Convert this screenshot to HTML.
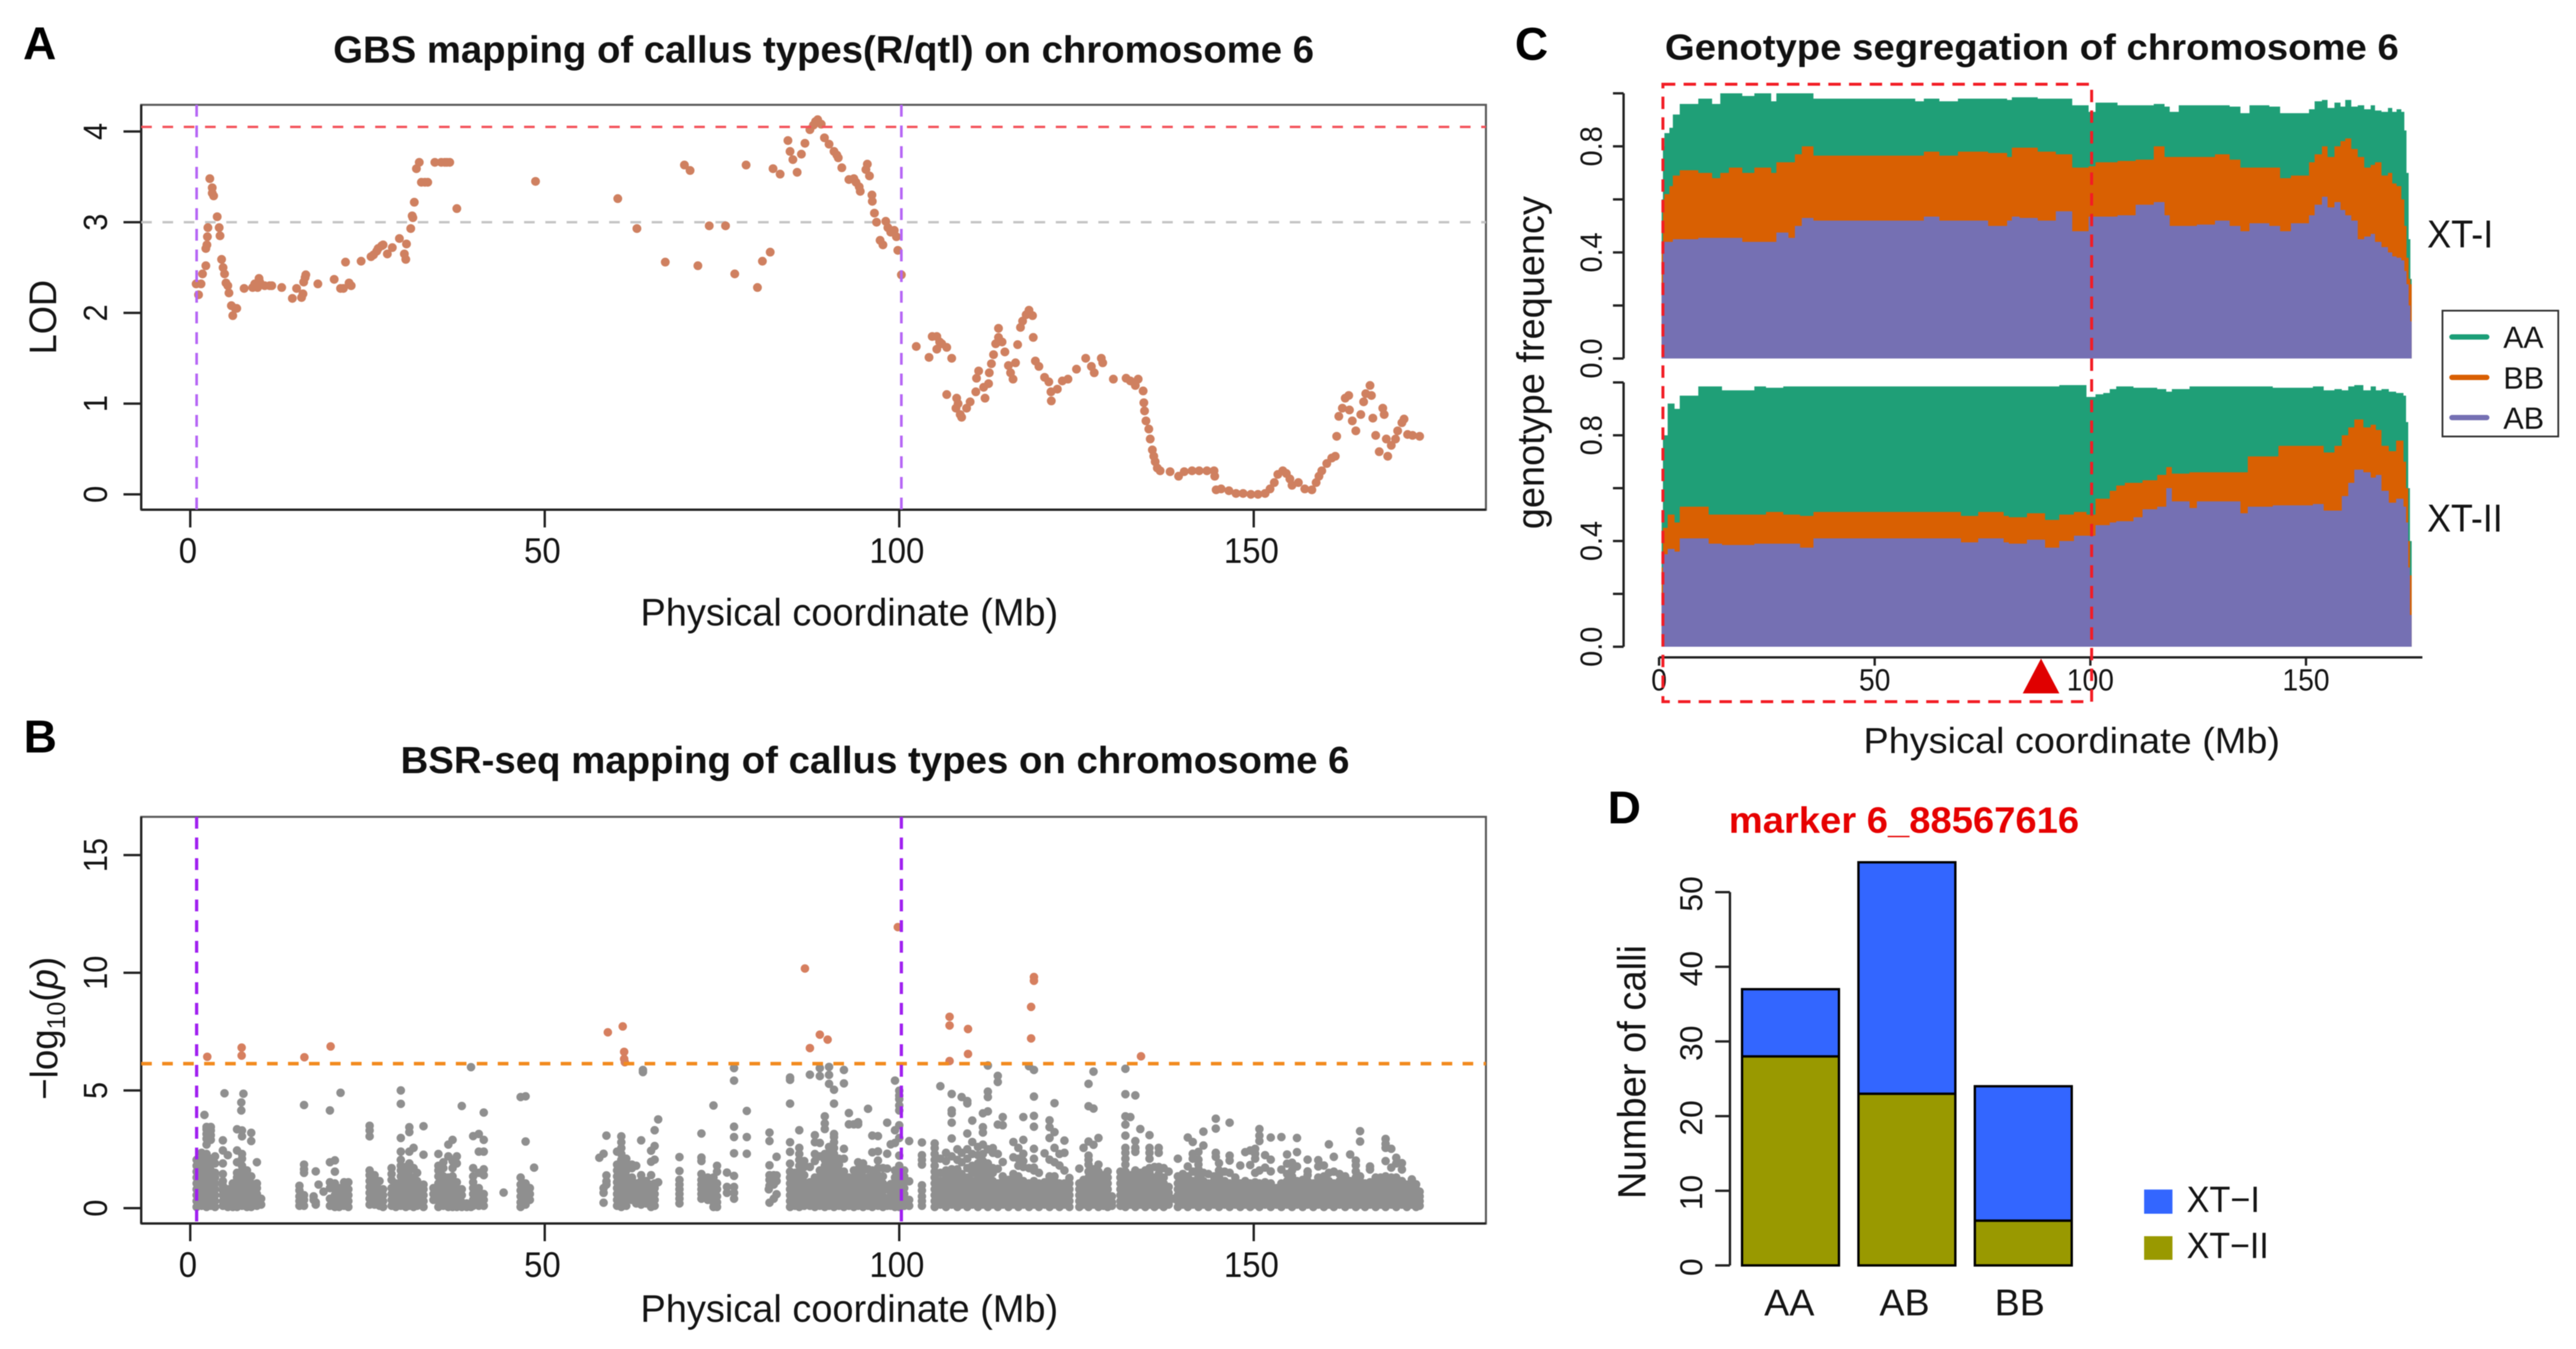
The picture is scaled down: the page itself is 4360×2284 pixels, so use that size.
<!DOCTYPE html>
<html lang="en">
<head>
<meta charset="utf-8">
<title>Chromosome 6 mapping of callus types</title>
<style>
html,body{margin:0;padding:0;background:#fff}
svg{display:block;filter:blur(0.9px)}
text{font-family:"Liberation Sans",Arial,sans-serif;fill:#141414}
.panel{font-weight:700;font-size:78px;fill:#000}
.title{font-weight:700;font-size:64px;fill:#111}
.axis{font-size:65px}
</style>
</head>
<body>
<svg id="figure" xmlns="http://www.w3.org/2000/svg" width="4360" height="2284" viewBox="0 0 4360 2284">
<rect x="0" y="0" width="4360" height="2284" fill="#fff"/>
<text class="panel" x="39" y="100">A</text>
<text class="panel" x="40" y="1274">B</text>
<text class="panel" x="2564" y="101">C</text>
<text class="panel" x="2721" y="1394">D</text>

<text class="title" x="564" y="106" textLength="1660" lengthAdjust="spacingAndGlyphs">GBS mapping of callus types(R/qtl) on chromosome 6</text>
<text class="title" x="678" y="1309" textLength="1606" lengthAdjust="spacingAndGlyphs">BSR-seq mapping of callus types on chromosome 6</text>
<text class="title" x="2818" y="101" textLength="1242" lengthAdjust="spacingAndGlyphs" style="font-size:61px">Genotype segregation of chromosome 6</text>
<text class="title" x="2926" y="1410" textLength="593" lengthAdjust="spacingAndGlyphs" style="fill:#e60000;font-size:62px">marker 6_88567616</text>

<text class="axis" x="1084" y="1059" textLength="707" lengthAdjust="spacingAndGlyphs">Physical coordinate (Mb)</text>
<text class="axis" x="1084" y="2238" textLength="707" lengthAdjust="spacingAndGlyphs">Physical coordinate (Mb)</text>
<text class="axis" x="3154" y="1275" textLength="705" lengthAdjust="spacingAndGlyphs" style="font-size:61px">Physical coordinate (Mb)</text>

<text class="axis" text-anchor="middle" transform="translate(95 537) rotate(-90)" textLength="126" lengthAdjust="spacingAndGlyphs">LOD</text>
<text class="axis" text-anchor="middle" transform="translate(97 1741) rotate(-90)" textLength="242" lengthAdjust="spacingAndGlyphs">−log<tspan dy="13" font-size="44">10</tspan><tspan dy="-13">(</tspan><tspan font-style="italic">p</tspan>)</text>
<text class="axis" text-anchor="middle" transform="translate(2613 614) rotate(-90)" textLength="564" lengthAdjust="spacingAndGlyphs">genotype frequency</text>
<text class="axis" text-anchor="middle" transform="translate(2785 1815) rotate(-90)" textLength="430" lengthAdjust="spacingAndGlyphs" style="font-size:67px">Number of calli</text>

<text x="4108" y="419" font-size="66" textLength="112" lengthAdjust="spacingAndGlyphs">XT-I</text>
<text x="4108" y="900" font-size="66" textLength="128" lengthAdjust="spacingAndGlyphs">XT-II</text>

<g id="layer-a"></g>
<g id="layer-b"></g>
<g id="layer-c"></g>
<g id="layer-d"></g>

<g>
<rect x="4134" y="526" width="196" height="213" fill="#fff" stroke="#333" stroke-width="3"/>
<line x1="4150" x2="4209" y1="570.5" y2="570.5" stroke="#1b9e77" stroke-width="9" stroke-linecap="round"/>
<line x1="4150" x2="4209" y1="639" y2="639" stroke="#d95f02" stroke-width="9" stroke-linecap="round"/>
<line x1="4150" x2="4209" y1="707" y2="707" stroke="#7570b3" stroke-width="9" stroke-linecap="round"/>
<text x="4237" y="589" font-size="52" textLength="68" lengthAdjust="spacingAndGlyphs">AA</text>
<text x="4237" y="658" font-size="52" textLength="69" lengthAdjust="spacingAndGlyphs">BB</text>
<text x="4237" y="726" font-size="52" textLength="69" lengthAdjust="spacingAndGlyphs">AB</text>
</g>

<g>
<rect x="3629" y="2014" width="48" height="41" fill="#3366ff"/>
<rect x="3629" y="2093" width="48" height="40" fill="#999900"/>
<text x="3701" y="2052" font-size="62" textLength="124" lengthAdjust="spacingAndGlyphs">XT−I</text>
<text x="3701" y="2130" font-size="62" textLength="139" lengthAdjust="spacingAndGlyphs">XT−II</text>
</g>
</svg>

<script>
// ---------- Panel A: LOD scan (Mb, LOD) ----------
const lodPositions=[0.83,1.52,1.17,1.73,2.2,2.2,2.35,2.42,2.49,2.76,3.1,3.1,3.3,3.8,4.08,4.2,4.42,4.63,4.84,5.04,5.3,5.46,5.8,6.36,6.56,6,7.6,8.8,9.1,9.5,9.7,9.8,10.5,11.2,11.5,12.9,14.4,15,15.7,15.9,16,16.2,16.3,18,20.3,21.2,21.6,22.4,22.7,21.9,24.1,25.5,25.85,26.3,26.5,27,27.2,27.8,28.5,29.5,30.2,30.4,30.5,31.1,31.4,31.3,31.6,31.9,32.3,32.6,33.1,33.5,34.5,35.4,35.9,36.2,36.6,37.6,48.7,60.3,63,67,69.7,70.5,71.6,73.2,75.5,76.8,78.4,80,80.7,81.8,82.2,83.2,84.3,84.6,85,85.6,86.2,86.7,87.4,87.9,88.2,88.5,89,89.45,90.1,90.8,91.2,91.4,91.9,92.9,93.6,93.9,94.35,94.5,95.3,95.5,95.8,96.15,96.2,96.5,96.8,98.1,97.3,97.7,98.4,98.8,99.3,99.6,99.8,100.3,102.4,104.2,104.65,105.3,105.7,105.3,106,106.7,107.4,106.7,108.1,108,108.3,108.6,108.8,109.5,110,110.8,111.2,110.9,111.9,112.1,112.6,112.7,113,113.3,113.6,114,114,114.5,114.9,115.4,116.4,115.7,116.05,116.7,117.1,117.4,117.9,118.3,118.8,118.9,119.2,119.7,120.5,121.1,121.4,121.45,122.3,123,123.8,125,126.3,127.1,127.5,128.5,128.7,130.2,132,132.6,133.3,133.7,134.4,134.5,134.6,134.8,135.2,135.4,135.7,135.9,136.1,136.4,136.8,138.2,139.4,140.2,141.3,142.3,143.4,144.4,144.5,144.7,145.4,146.5,147.5,148.5,149.6,150.6,151.6,152.3,152.9,153.4,154.1,154.6,155.1,155.4,156.3,157.2,158.2,158.8,159.2,159.6,160.3,161,161.5,161.7,162,162.5,162.9,163.4,163.5,163.9,164.4,165.1,165.5,165.8,166.4,166.6,166.8,167.2,167.7,168.2,168.4,168.7,168.9,169.4,170,170.3,170.9,171.2,171.7,172.4,173.4];
const lodValues=[2.32,2.32,2.2,2.43,2.52,2.71,2.75,2.84,2.94,3.48,3.38,3.32,3.29,3.06,2.94,2.85,2.59,2.5,2.43,2.33,2.3,2.22,2.08,2.05,2.05,1.97,2.27,2.28,2.32,2.28,2.38,2.34,2.3,2.3,2.3,2.28,2.16,2.27,2.17,2.21,2.34,2.39,2.42,2.32,2.37,2.27,2.27,2.33,2.3,2.56,2.57,2.62,2.64,2.68,2.71,2.74,2.75,2.65,2.72,2.82,2.65,2.59,2.76,2.93,3.05,3.07,3.22,3.59,3.66,3.44,3.44,3.44,3.66,3.66,3.66,3.66,3.66,3.15,3.45,3.26,2.93,2.56,3.63,3.57,2.52,2.96,2.96,2.43,3.63,2.28,2.57,2.67,3.59,3.53,3.9,3.78,3.69,3.55,3.75,3.87,4.02,4.07,4.11,4.13,4.08,3.93,3.86,3.78,3.74,3.71,3.6,3.47,3.48,3.44,3.39,3.34,3.58,3.64,3.51,3.3,3.23,3.1,3,3.01,2.8,2.75,2.94,2.89,2.91,2.84,2.69,2.42,1.63,1.51,1.74,1.74,1.68,1.6,1.66,1.62,1.5,1.1,1.06,0.95,1,0.88,0.85,0.95,1.02,1.13,1.36,1.28,1.18,1.06,1.22,1.34,1.44,1.54,1.66,1.83,1.73,1.68,1.57,1.42,1.45,1.34,1.27,1.65,1.84,1.91,1.98,2.03,1.97,1.73,1.47,1.41,1.29,1.24,1.13,1.03,1.16,1.25,1.27,1.38,1.5,1.41,1.34,1.5,1.45,1.27,1.28,1.25,1.2,1.27,1.14,1.01,0.92,0.81,0.72,0.61,0.49,0.42,0.36,0.29,0.26,0.25,0.2,0.25,0.26,0.26,0.26,0.26,0.2,0.05,0.06,0.04,0.01,0.01,0,0,0.01,0.06,0.13,0.22,0.26,0.23,0.17,0.1,0.13,0.06,0.05,0.13,0.2,0.26,0.34,0.4,0.42,0.64,0.86,0.95,1.06,1.09,0.93,0.81,0.7,0.88,1.02,1.11,1.2,1.09,0.84,0.65,0.47,0.95,0.88,0.61,0.42,0.54,0.61,0.7,0.79,0.83,0.66,0.65,0.64];
const lodThreshold=4.05;
const lodSuggestive=3;
const regionBounds=[0.9,100.3];
const mbTicks=[0,50,100,150];
const lodTicks=[0,1,2,3,4];

// ---------- Panel B: BSR-seq association ----------
const bsrHitPositions=[2.4,7.25,7.25,16.1,19.8,58.9,61,61.2,61.2,61.3,86.7,87.4,88.8,89.9,99.8,107.1,107.1,107.1,109.7,109.7,118.6,118.6,119,119,134.1];
const bsrHitValues=[6.43,6.82,6.48,6.41,6.87,7.47,7.72,6.64,6.34,6.2,10.18,6.8,7.37,7.16,11.94,8.13,7.76,6.25,7.61,6.55,7.21,8.55,9.82,9.66,6.45];
const bsrThreshold=6.14;
const bsrTicks=[0,5,10,15];
// each row: position in Mb, then the -log10(p) values read at that position
const bsrColumns=[
[0.9,.05,.3,.55,.8,1.05,1.3,1.55,1.8,2.05],[1.6,.1,.35,.6,.85,1.1,1.35,1.6,1.85,2.1,2.35],[2,3.96],
[2.3,.05,.3,.55,.8,1.05,1.3,1.55,1.8,2.05,2.3,2.7,2.95,3.15,3.35,3.45],[2.9,.1,.35,.6,.85,1.1,1.35,1.6,1.85,2.1,2.9,3.1,3.3,3.45],
[3.5,.05,.3,.55,.8,1.05,1.3,1.5,1.9,2.2],[4.6,.1,.3,.55,.75,.95,1.15,1.45,1.9,2.45,2.88],[4.83,4.88],[5.3,.05,.3,.55,.8,2.25],[6,.05,.25,.5,.75,1.05],
[6.6,.05,.3,.55,.8,1.05,1.3,1.5,1.95,2.45,3.35],[7.2,4.15,4.49],[7.3,.1,.35,.6,.85,1.1,1.35,1.6,1.8,2.1,2.3,3.3,3.05],[7.5,4.86],[8,.05,.3,.55,.8,1.05,1.3,1.6],
[8.6,.05,.3,.55,.8,1.05,1.35,2.85,3.2],[9.4,.1,.35,.6,.85,1.05,1.95],[10,.15,.4],
[15.4,.1,.3,.5,.75,.95],[16.05,.1,.35,.55,1.5,1.65,1.85,4.38],[17.4,.35,.5],[17.7,.15,.25,1.56],[18.1,1],[18.8,.7],[19.7,.1,.4,.85,1.1,1.95,4.15],
[20.4,.05,.3,.55,.8,1.05,1.55,2.03],[21,.05,.3,.6,.85],[21.2,4.9],[21.7,.1,.35,.6,.85,1.1],[22.3,.05,.3,.55,.8,1.1],
[25.3,.15,.4,.65,.9,1.15,1.4,1.6,3.05,3.3,3.5],[26,.15,.4,.65,.9,1.15,1.4],[26.7,.1,.35,.6,.8,1.15],[27.2,.05,.3,.55,.8],[28.4,.1,.35,.6,.85,1.2,1.45,1.7],[29,.05,.3,.55,.8,1.05],
[29.7,.1,.35,.6,.85,1.1,1.35,1.6,1.8,2.05,2.4,2.98,4.43,5],[30.4,.05,.3,.55,.8,1.05,1.3,1.55,1.75],[30.9,.1,.35,.6,.85,1.1,1.35,1.6,1.9,2.4,3.23,3.44],[31.5,.05,.3,.55,.8,1.05,1.3,1.7,2.56],
[32,.1,.35,.65,.9,1.15,1.5],[32.9,.05,.3,.55,.8,1,2.27,3.48],
[34.3,.35,.6,.85],[35,.05,.3,.55,.8,1.05,1.35,1.6,1.8,2.3],[35.7,.1,.35,.6,.85,1.1,1.35,1.7,1.95],[36.4,.05,.3,.55,.8,1.05,1.3,2.2,2.7],[37,.05,.3,.55,.8,1.05,1.35,1.7,2,2.9],
[37.6,.05,.3,.55,.85,1.1,2.2,1.9],[38.3,.05,.25,.55,.8,4.34],[39,.05,.2],[39.6,.05,.15,5.99],[39.9,.1,.35,.6,.85,1.1,1.35,1.7,3.06],[40.7,.1,.35,.6,.85,1.5,3.15,2.4],[41.4,.1,.35,.6,1.4,1.65,2.4,2.9,4.06],[44.2,.66],
[46.6,.05,.25,.5,.75,1,1.3,4.72],[47.3,.15,.4,.65,.95,1.05,2.83,4.75],[47.9,.35,.6,.85],[48.5,1.72],
[57.7,2.14],[58.3,.23,.65,.85,2.31],[58.7,1,1.14,1.39,3.08],[60.2,.1,.35,.6,.85,1.1,1.35,1.6,1.85,2.4],[60.8,.05,.3,.55,.8,1.05,1.3,1.55,1.8,2.05,2.3,2.55,2.8,3.05],
[61.5,.1,.35,.6,.85,1.1,1.35,1.6,1.85,2.1],[62.3,.35,.6,.85,1.05,1.3,1.7,1.85],[62.9,.2,.45,.7,1.05,1.8],[63.6,.15,.4,.65,.9,1.15,1.4,2.88],[63.85,5.87,5.78],[64.3,.2,.45,.7,.95,1.15],
[65,.05,.3,.55,.8,1,1.4,1.97,2.44],[65.5,.1,.35,.6,.85,1.05,2.06,2.64,3.31],[66,1.1,3.77],[69,.2,.4,.6,.8,1,1.2,1.58,2.17],[72.1,.4,.6,.8,1,1.2,1.45,2,2.15,3.17],[73,.35,.6,.85,1.1,1.3],
[73.8,.05,.25,.5,.75,1,1.3,4.36],[74.3,.05,.25,.5,.8,1.05,1.55,1.8],[75.7,.65,.9,1.51],[76.7,.4,.65,.9,1.37,2.33,3.02,3.46,5.42,5.95],[78.5,2.31,3.02,4.13],
[81.6,.8],[81.7,.23,.95,1.2,1.4,1.82,2.85,3.21],[82.3,.4,1,1.4],[82.7,.59,1.15,1.39,2.18],
[84.6,.05,.3,.55,.8,1.05,1.3,1.55,1.89,2.39,2.8,4.44,5.45,5.55],[85.3,.1,.35,.6,.85,1.1,1.35,1.5],[85.9,.05,.3,.55,.8,1.05,1.3,1.55,1.8,2.05,2.3,2.56,3.31],[86.6,.1,.35,.6,.85,1.1,1.4,1.75,2],
[87.4,.1,.35,.6,.85,1.1,1.75,5.67],[88.1,.05,.3,.55,.8,1.05,1.3,2,2.3,2.8,3.1],[88.8,.1,.35,.6,.85,1.1,1.35,1.6,2.2,2.77,5.61,5.95],[89.5,.05,.3,.55,.8,1.05,1.3,1.55,1.8,2.05,2.3,3.36,3.6,3.9],
[90.1,.1,.35,.6,.85,1.1,1.35,1.6,1.85,2.1,2.35,2.6,5.28,5.66,6],[90.8,.05,.3,.55,.8,1.05,1.3,1.55,1.8,2.05,2.3,2.55,2.8,3.02,3.15,4.44,5.03],[91.5,.1,.35,.6,.85,1.1,1.35,1.6,1.85,2.1],
[92.2,.05,.3,.55,.8,1.05,1.3,1.55,2.1,2.52,5.3,5.87],[92.9,.1,.35,.6,.85,1.05,1.3,3.56,4.04],[93.6,.05,.3,.55,.8,1.05,1.3,1.6,3.56],[94.2,.1,.35,.6,.85,1.1,1.35,1.65,1.95,3.56,3.65],
[94.9,.05,.3,.55,.8,1.05,1.3,1.6,1.9],[95.6,.1,.35,.6,.85,1.1,1.3,1.65,4.22],[96.2,.05,.3,.55,.8,1.05,1.3,1.6,2.37,3.08],[97,.1,.35,.6,.85,1.1,1.4,1.7,2.02,2.41,3.06],[97.7,.05,.25,.5,.75,1.05,1.35,1.7],
[98.3,.1,.35,.8,1.68,2.31,3.63],[98.8,.1,.3,.55,.8,1.02,2.71],[99.4,.05,.3,.55,.8,1.05,1.3,1.6,2.77,3.31,5.42],[100,.05,.3,.55,.8,1.05,1.3,1.55,1.8,2.23,2.98,3.52,4.15,4.36,4.63,4.78,4.99],
[100.7,.1,.35,.6,.85,1.1,1.35,1.6],[101.4,.1,.35,1.14,2.85],[103.2,.1,.3,.5,.75,.97,1.85,2.05,2.25,2.79],
[105,.05,.3,.55,.8,1.05,1.3,1.55,1.8,2.05,2.3,2.55,2.75],[105.8,.15,.4,.65,.9,1.15,1.5,2.1,5.18],[106.6,.05,.3,.55,.8,1.05,1.3,1.6,2,2.35],[107.4,.15,.4,.65,.9,1.15,1.4,1.65,2.2,2.96,3.63,4.03,4.15,4.85],
[108.2,.05,.3,.55,.8,1.05,1.35,1.65,2.05,2.5],[108.8,.15,.4,.65,.9,1.15,1.45,1.95,2.35,4.72],[109.6,.05,.3,.55,.8,1.05,1.3,1.7,2.1,2.5,3.17,4.45,4.55],[110.3,.15,.4,.65,.9,1.15,1.5,1.8,2.3,2.81,3.72],
[111.1,.05,.3,.55,.8,1.05,1.3,1.6,1.9,2.25,2.6],[111.8,.15,.4,.65,.9,1.15,1.45,1.7,2,2.3,2.7,3.21,3.44,4.03],[112.5,.05,.3,.55,.8,1.05,1.3,1.6,1.9,2.5,4.11,4.72,4.95,6.06],[113.2,.15,.4,.65,.9,1.15,1.5,1.7,2.35,2.55],
[113.9,.05,.3,.55,.8,1.05,1.67,2.3,3.55,5.36,5.62],[114.6,.15,.4,.65,.9,1.15,1.35,1.96,3.52,3.87],[115.4,.05,.3,.55,.8,1.05,1.2],[116.1,.15,.4,.65,.9,1.15,1.45,2.16,2.81],[116.8,.05,.3,.55,.8,1.05,1.35,1.8,2.1,2.56],
[117.5,.15,.4,.65,.9,1.15,1.75,2,2.31,2.9,3.87],[118.3,.05,.3,.55,.8,1.05,1.7,6.03],[119,.15,.4,.65,.9,1.15,1.6,1.72,2.1,2.52,3.46,3.92,4.74,5.87],[119.7,.05,.3,.55,.8,1.05,1.5],[120.5,.15,.4,.65,.9,1.1,2.33],
[121.2,.05,.3,.55,.8,1.05,1.35,2.06,2.98,3.44,3.73],[121.9,.15,.4,.65,.9,1.15,1.35,1.95,2.56,3.23,4.46],[122.6,.05,.3,.55,.8,1.05,1.81,2.3],[123.3,.15,.4,.65,.9,1.05,1.6,2.35,2.87],[124,.05,.3,.55,.8,1.05,1.28],
[125.4,.05,.3,.55,.8,1.05,1.68],[126,.15,.4,.65,.9,1.2,2.56],[126.7,.05,.3,.55,.8,1.05,1.3,1.55,1.85,2.05,2.23,2.83,4.33,5.28],[127.4,.15,.4,.65,.9,1.15,1.4,1.65,2.69,4.23,5.8],[128.1,.05,.3,.55,.8,1.05,1.3,1.55,1.85,2.98],
[128.8,.1,.35,.6,.85,1.1,1.4],[129.4,.05,.3,.55,.8,1.05,1.3,1.56],[130,.1,.25,.5],
[131.2,.1,.3,.55,.8,1.05,1.3,1.55],[131.9,.05,.3,.55,.8,1.05,1.3,1.55,1.85,2.1,2.35,2.56,3.08,3.55,3.9,4.84,5.92],[132.6,.15,.4,.65,.9,1.15,1.4,3.87],[133.3,.05,.3,.55,.8,1.05,1.3,1.6,2.39,2.56,2.85,4.79],
[134,.15,.4,.65,.9,1.15,1.5,3.36],[134.7,.05,.3,.55,.8,1.05,1.3,1.6],[135.3,.15,.4,.65,.9,1.15,1.5,1.7,2.1,2.35,2.56,3.1],[136,.05,.3,.55,.8,1.05,1.3,1.75],[136.6,.15,.4,.65,.9,1.15,1.45,1.75,2.35,2.56],
[137.3,.05,.3,.55,.8,1.05,1.3,1.7],[138,.15,.4,.65,.9,1.55],[138.7,.4],[139.3,.05,.3,.55,.8,1.05,1.35,2.1],
[140,.15,.4,.65,.9,1.15,1.45],[140.7,.05,.3,.55,.8,1.05,1.35,1.77,3],[141.4,.15,.4,.65,.9,1.15,1.55,2.1,2.31,2.81],[142.2,.05,.3,.55,.8,1.05,1.35,1.65,1.85,2.06,2.39],[142.9,.15,.4,.65,.9,1.15,1.5,2.66,3.25],
[143.6,.05,.3,.55,.8,1.05,1.45],[144.4,.15,.4,.65,.9,1.15,1.35],[144.65,2.18,2.35,3.38,3.8],[145.1,.05,.3,.55,.8,1.05,1.35,1.6,1.91],[145.9,.15,.4,.65,.9,1.15,1.55],[146.6,.05,.3,.55,.8,1.05,1.5,2.02,2.23,3.63],
[147.4,.15,.4,.65,.9,1.15,1.3],[148.1,.05,.3,.55,.8,1.05,1.81],[148.8,.15,.4,.65,.9,1.15,2.38],[149.5,.05,.3,.55,.8,1.05,1.83,2.45],[150.2,.15,.4,.65,.9,1.1,1.5,2.1,2.31,2.52],[150.8,.05,.3,.55,.8,1.05,1.6,2.85,3.08,3.36],
[151.6,.15,.4,.65,.9,1.1,1.72,2.25],[152.4,.05,.3,.55,.8,1.05,1.56,2.06,3],[153.2,.15,.4,.65,.85],[153.9,.05,.3,.55,.8,1.05,1.64,3.02],[154.7,.15,.4,.65,.9,1.15,1.45,1.89,2.28],[155.4,.05,.3,.55,.8,1.05,1.35,1.6,1.93],
[156.1,.15,.4,.65,.9,1.15,1.77,2.38,2.98],[156.9,.05,.3,.55,.8,1.05,1.2],[157.6,.15,.4,.65,.9,1.15,1.4,1.56,2.06],[158.4,.05,.3,.55,.8,1.05],[159.1,.15,.4,.65,.9,1.15,1.3,1.77,2.04],[159.9,.05,.3,.55,.8,1.05,1.35,1.81],
[160.6,.15,.4,.65,.9,1.15,1.5,2.71],[161.3,.05,.3,.55,.8,1.05,1.55,2.18],[162.1,.15,.4,.65,.9,1.15,1.45],[162.9,.05,.3,.55,.8,1.05,1.35],[163.6,.15,.4,.65,.9,1.15,2.28],[164.4,.05,.3,.55,.8,1.05,1.3,1.56,1.82,2.02],
[165,.15,.4,.65,.9,1.15,1.35,2.83,3.27],[165.7,.05,.3,.55,.8,1.05],[166.4,.15,.4,.65,.9,1.1,1.64,1.77],[167.2,.05,.3,.55,.8,1.05,1.3],[167.9,.15,.4,.65,.9,1.15,1.3],[168.6,.05,.3,.55,.8,1.05,1.35,2,2.56,2.73,2.94],
[169.4,.15,.4,.65,.9,1.15,1.3,1.72,2.52],[170.1,.05,.3,.55,.8,1.05,1.3,1.9,2.14],[170.9,.15,.4,.65,.9,1.15,1.64,1.91],[171.6,.05,.3,.55,.8,1],[172.3,.15,.4,.65,.9,1.22],[172.9,.05,.3,.55,.8,1.01],[173.4,.1,.3,.5,.7]
];

// ---------- Panel C: stacked genotype frequencies (step breakpoints) ----------
const xt1Positions=[0.4,0.6,0.9,1.25,2.4,3.2,4.8,9.1,12.3,14.2,16.2,19.3,22.1,26,27.2,30,31.5,33.1,35.8,59.4,61.4,65,69.3,76.3,80.7,81.8,83.6,87.8,92,95.8,99.6,101.2,106.3,110.5,114.7,117.2,118.4,120.5,124.7,128.9,132.3,134.8,136.9,141.5,144,146.5,150.7,152,153.7,155,156.6,158,159.1,160.5,162,163.5,165,166,167.5,169,170,171,172.1,172.8,173.3,173.8,174.2];
const xt1AB=[0,.25,.43,.44,.44,.45,.45,.455,.455,.455,.455,.44,.44,.44,.475,.455,.5,.53,.52,.52,.535,.52,.52,.5,.52,.535,.53,.52,.555,.48,.535,.535,.54,.58,.59,.54,.5,.5,.505,.52,.5,.48,.51,.5,.48,.51,.54,.58,.61,.57,.59,.56,.54,.52,.45,.46,.47,.44,.42,.4,.385,.38,.37,.33,.28,.2,.14];
const xt1BB=[0,.4,.6,.62,.65,.69,.71,.7,.68,.7,.72,.7,.72,.7,.74,.74,.77,.8,.765,.765,.78,.765,.78,.775,.76,.795,.795,.78,.77,.72,.725,.74,.745,.75,.8,.76,.76,.76,.76,.77,.75,.72,.72,.72,.68,.69,.74,.77,.8,.76,.8,.82,.83,.79,.76,.72,.73,.74,.69,.7,.66,.65,.6,.5,.38,.3,.28];
const xt1AA=[0,.6,.8,.85,.87,.92,.96,.98,.96,1,1,.99,1,.97,1,1,1,1,.98,.97,.98,.97,.98,.98,.975,.985,.985,.98,.98,.955,.93,.965,.955,.955,.96,.95,.93,.955,.955,.955,.95,.925,.955,.95,.925,.925,.94,.97,.975,.945,.965,.95,.975,.95,.955,.94,.955,.935,.93,.945,.93,.94,.93,.86,.7,.45,.3];
const xt2Positions=[0.4,0.6,0.9,2,3.6,4.8,9.1,11.5,14.6,22.1,24.8,28.8,32.7,35.8,70,74,79.9,81.1,85.3,89.5,92.8,96.2,99.1,101.2,103,104.5,106,108,110,112.1,115.5,117.6,118.9,123,124.7,134.8,136.5,142.3,143.6,151.6,154.1,156.6,158.3,159.8,161.2,163.3,165,166.2,167.5,169.2,170.9,172.6,173.2,173.7,174.1];
const xt2AB=[0,.2,.35,.37,.36,.41,.41,.39,.385,.39,.39,.39,.375,.41,.395,.41,.395,.39,.405,.375,.4,.42,.42,.46,.46,.47,.475,.475,.49,.52,.53,.6,.55,.525,.55,.505,.53,.535,.535,.54,.515,.515,.57,.62,.67,.66,.64,.65,.59,.545,.56,.53,.47,.3,.12];
const xt2BB=[0,.3,.45,.5,.47,.53,.53,.5,.5,.5,.51,.5,.495,.51,.495,.51,.495,.49,.505,.48,.5,.51,.5,.56,.56,.59,.61,.62,.62,.63,.65,.68,.655,.66,.66,.66,.72,.72,.76,.76,.735,.76,.8,.83,.86,.83,.84,.82,.76,.74,.78,.7,.6,.4,.27];
const xt2AA=[0,.5,.8,.92,.9,.95,.985,.985,.97,.985,.98,.985,.985,.985,.985,.985,.985,.985,.985,.985,.99,.99,.945,.955,.96,.975,.985,.985,.98,.98,.975,.965,.975,.985,.985,.985,.985,.98,.98,.985,.97,.975,.97,.985,.99,.97,.985,.97,.975,.965,.96,.95,.85,.6,.4];
const chromosomeEnd=174.5;
const markerPosition=88.57;
const freqMajorTicks=[0,0.4,0.8];
const freqAllTicks=[0,0.2,0.4,0.6,0.8,1];

// ---------- Panel D: stacked bars ----------
const barCategories=['AA','AB','BB'];
const barXtII=[28,23,6];
const barXtI=[9,31,18];
const countTicks=[0,10,20,30,40,50];

// ---------- axis functions ----------
const xA=v=>322+12*v;
const yA=v=>837-153.6*v;
const yB=v=>2045.5-39.85*v;
const xC=v=>2808+7.3*v;
const yC1=v=>607-449*v;
const yC2=v=>1095-447.5*v;
const xD=i=>2948.5+197*i;
const yD=v=>2142.5-12.64*v;

const SVGNS='http://www.w3.org/2000/svg';
function mk(tag,attrs,parent,txt){
  const el=document.createElementNS(SVGNS,tag);
  for(const k in attrs){el.setAttribute(k,attrs[k]);}
  if(txt!==undefined){el.textContent=txt;}
  parent.appendChild(el);
  return el;
}
const layerA=document.getElementById('layer-a');
const layerB=document.getElementById('layer-b');
const layerC=document.getElementById('layer-c');
const layerD=document.getElementById('layer-d');

function drawFrame(parent,top,bottom,prefix){
  const box=mk('rect',{x:239,y:top,width:2276,height:bottom-top,fill:'none',stroke:'#5a5a5a','stroke-width':3.5},parent);
  
  
  const lft=mk('line',{x1:239,x2:239,y1:top,y2:bottom,stroke:'#222','stroke-width':4},parent);
  
  
  const bot=mk('line',{x1:239,x2:2515,y1:bottom,y2:bottom,stroke:'#222','stroke-width':4},parent);
  
  
}
function drawMbTicks(parent,bottom,labelY,prefix){
  mbTicks.forEach(v=>{
    const t=mk('line',{x1:xA(v),x2:xA(v),y1:bottom,y2:bottom+30,stroke:'#222','stroke-width':4},parent);
    
    
    const s=String(v);
    const l=mk('text',{x:xA(v)-4,y:labelY,'text-anchor':'middle','font-size':60,textLength:31*s.length,lengthAdjust:'spacingAndGlyphs'},parent,s);
    
    
  });
}
function drawYTicks(parent,ticks,yFn,prefix){
  ticks.forEach(v=>{
    const t=mk('line',{x1:209,x2:239,y1:yFn(v),y2:yFn(v),stroke:'#222','stroke-width':4},parent);
    
    
    const s=String(v);
    const l=mk('text',{'text-anchor':'middle','font-size':57,textLength:29*s.length,lengthAdjust:'spacingAndGlyphs',transform:'translate(181 '+yFn(v)+') rotate(-90)'},parent,s);
    
    
  });
}
function drawVLines(parent,top,bottom,color,width,prefix){
  regionBounds.forEach(v=>{
    const d=mk('line',{x1:xA(v),x2:xA(v),y1:top,y2:bottom,stroke:color,'stroke-width':width,'stroke-dasharray':'20 15'},parent);
    
    
  });
}

// Panel A
drawFrame(layerA,177.5,863,'lod');
drawMbTicks(layerA,863,953,'lod');
drawYTicks(layerA,lodTicks,yA,'lod');
const lodSug=mk('line',{x1:239,x2:2515,y1:yA(lodSuggestive),y2:yA(lodSuggestive),stroke:'#c4c4c4','stroke-width':4,'stroke-dasharray':'18 18'},layerA);


lodPositions.forEach((p,i)=>{
  const c=mk('circle',{cx:xA(p),cy:yA(lodValues[i]),r:7.5,fill:'#cf8060'},layerA);
  
  
});
const lodSig=mk('line',{x1:239,x2:2515,y1:yA(lodThreshold),y2:yA(lodThreshold),stroke:'#f4525a','stroke-width':4,'stroke-dasharray':'18 18'},layerA);


drawVLines(layerA,177.5,863,'#b565f5',4.5,'lod');

// Panel B
drawFrame(layerB,1383,2071.5,'bsr');
drawMbTicks(layerB,2071.5,2162,'bsr');
drawYTicks(layerB,bsrTicks,yB,'bsr');
bsrColumns.forEach(col=>{
  col.slice(1).forEach(v=>{
    const c=mk('circle',{cx:xA(col[0]),cy:yB(v),r:7.2,fill:'#8f8f8f'},layerB);
    
    
  });
});
bsrHitPositions.forEach((p,i)=>{
  const c=mk('circle',{cx:xA(p),cy:yB(bsrHitValues[i]),r:7.2,fill:'#d67f5f'},layerB);
  
  
});
const bsrLine=mk('line',{x1:239,x2:2515,y1:yB(bsrThreshold),y2:yB(bsrThreshold),stroke:'#f28a1e','stroke-width':6,'stroke-dasharray':'18 17.5'},layerB);


drawVLines(layerB,1383,2071.5,'#a020f0',5.5,'bsr');

// Panel C
function stepPath(pos,vals,yFn){
  let d='M'+xC(pos[0])+' '+yFn(0);
  pos.forEach((p,i)=>{
    const next=i<pos.length-1?pos[i+1]:chromosomeEnd;
    d+='L'+xC(p)+' '+yFn(vals[i])+'L'+xC(next)+' '+yFn(vals[i]);
  });
  return d+'L'+xC(chromosomeEnd)+' '+yFn(0)+'Z';
}
const a1=mk('path',{d:stepPath(xt1Positions,xt1AA,yC1),fill:'#1f9f77'},layerC);


const b1=mk('path',{d:stepPath(xt1Positions,xt1BB,yC1),fill:'#d96002'},layerC);


const c1=mk('path',{d:stepPath(xt1Positions,xt1AB,yC1),fill:'#7570b3'},layerC);


const a2=mk('path',{d:stepPath(xt2Positions,xt2AA,yC2),fill:'#1f9f77'},layerC);


const b2=mk('path',{d:stepPath(xt2Positions,xt2BB,yC2),fill:'#d96002'},layerC);


const c2=mk('path',{d:stepPath(xt2Positions,xt2AB,yC2),fill:'#7570b3'},layerC);



[[yC1,'xt-i'],[yC2,'xt-ii']].forEach(pair=>{
  const yFn=pair[0];
  const ln=mk('line',{x1:2748,x2:2748,y1:yFn(1),y2:yFn(0),stroke:'#222','stroke-width':4},layerC);
  
  
  freqAllTicks.forEach(v=>{
    const t=mk('line',{x1:2730,x2:2748,y1:yFn(v),y2:yFn(v),stroke:'#222','stroke-width':4},layerC);
    
    
  });
  freqMajorTicks.forEach(v=>{
    const l=mk('text',{'text-anchor':'middle','font-size':52,textLength:68,lengthAdjust:'spacingAndGlyphs',transform:'translate(2711 '+yFn(v)+') rotate(-90)'},layerC,v.toFixed(1));
    
    
  });
});
const cAxis=mk('line',{x1:xC(0),x2:4100,y1:1113,y2:1113,stroke:'#222','stroke-width':4},layerC);


mbTicks.forEach(v=>{
  const t=mk('line',{x1:xC(v),x2:xC(v),y1:1113,y2:1127,stroke:'#222','stroke-width':4},layerC);
  
  
  const s=String(v);
  const l=mk('text',{x:xC(v),y:1169,'text-anchor':'middle','font-size':52,textLength:26.6*s.length,lengthAdjust:'spacingAndGlyphs'},layerC,s);
  
  
});
const tri=mk('polygon',{points:(xC(markerPosition)-31)+',1174 '+xC(markerPosition)+',1115 '+(xC(markerPosition)+31)+',1174',fill:'#e00000'},layerC);


const qtl=mk('rect',{x:xC(regionBounds[0]),y:142.6,width:xC(regionBounds[1])-xC(regionBounds[0]),height:1045.4,fill:'none',stroke:'#f21c24','stroke-width':5,'stroke-dasharray':'21 14'},layerC);



// Panel D
const dAxis=mk('line',{x1:2928,x2:2928,y1:yD(50),y2:yD(0),stroke:'#222','stroke-width':4},layerD);


countTicks.forEach(v=>{
  const t=mk('line',{x1:2903,x2:2928,y1:yD(v),y2:yD(v),stroke:'#222','stroke-width':4},layerD);
  
  
  const l=mk('text',{'text-anchor':'middle','font-size':54,transform:'translate(2881 '+(yD(v)+3)+') rotate(-90)'},layerD,String(v));
  
  
});
barCategories.forEach((cat,i)=>{
  const lower=mk('rect',{x:xD(i),y:yD(barXtII[i]),width:164,height:yD(0)-yD(barXtII[i]),fill:'#999900',stroke:'#000','stroke-width':4},layerD);
  
  
  const upper=mk('rect',{x:xD(i),y:yD(barXtII[i]+barXtI[i]),width:164,height:yD(barXtII[i])-yD(barXtII[i]+barXtI[i]),fill:'#3366ff',stroke:'#000','stroke-width':4},layerD);
  
  
  const l=mk('text',{x:xD(i)+82-2*(i+1),y:2227,'text-anchor':'middle','font-size':63,textLength:85,lengthAdjust:'spacingAndGlyphs'},layerD,cat);
  
  
});
</script>
</body>
</html>
